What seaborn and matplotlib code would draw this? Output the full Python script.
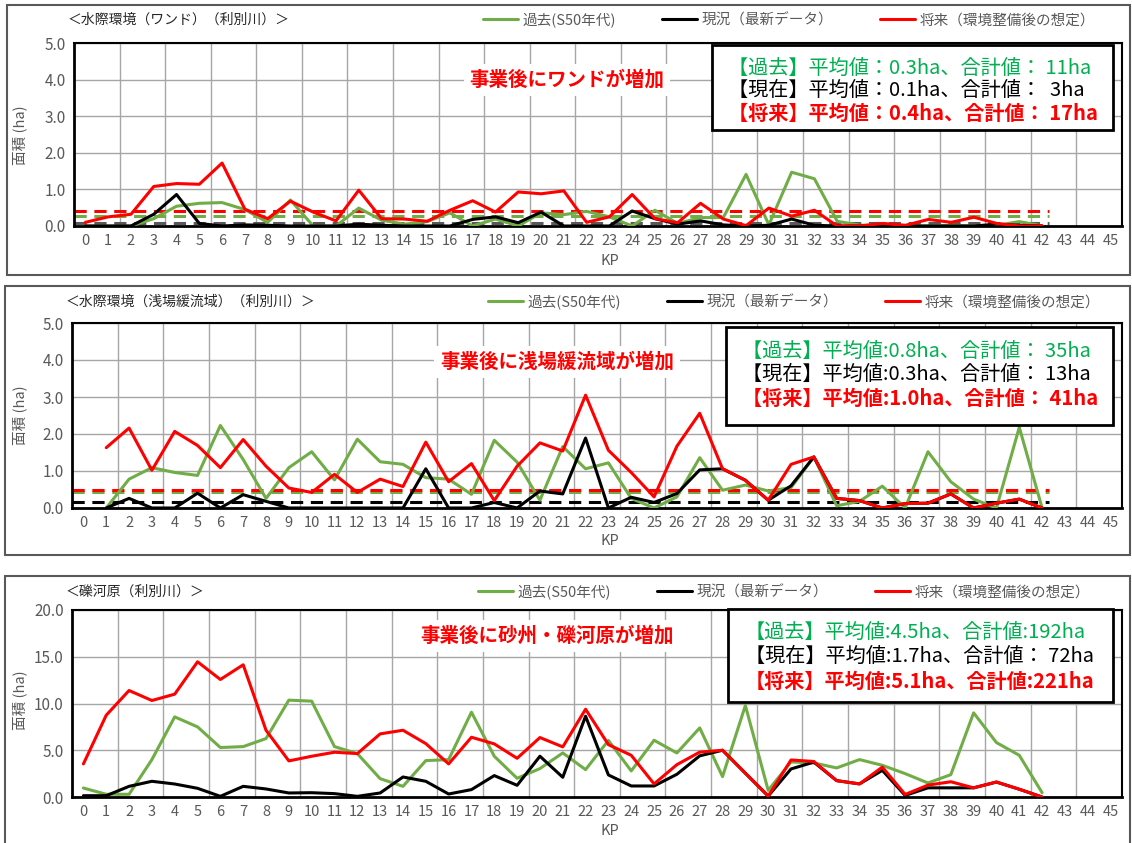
import numpy as np
import pandas as pd
import seaborn as sns
import matplotlib.pyplot as plt
from matplotlib.lines import Line2D
from matplotlib.patches import Rectangle
from matplotlib.ticker import MultipleLocator, FixedLocator

sns.set_style('white')
plt.rcParams['font.family'] = ['Noto Sans CJK JP', 'DejaVu Sans']

# KP 0-42 (軸は 0-45 まで表示)
kp = list(range(43))
kp_labels = [str(i) for i in range(46)]
nan = np.nan

# 水際環境（ワンド）
wando_past = [0, 0, 0, 0.2, 0.54, 0.62, 0.64, 0.45, 0.1, 0.71, 0, 0, 0.49, 0.16, 0.05, 0.12,
              0.36, 0, 0.19, 0, 0.36, 0.31, 0.4, 0.25, 0, 0.43, 0.07, 0.23, 0.23, 1.41, 0.03,
              1.47, 1.29, 0.13, 0.02, 0.03, 0, 0, 0.02, 0, 0.02, 0.12, 0]
wando_now = [0, 0, 0, 0.32, 0.86, 0.07, 0, 0.03, 0.02, 0, 0, 0, 0.05, 0.02, 0, 0, 0, 0.18,
             0.25, 0.09, 0.38, 0, 0, 0, 0.41, 0.2, 0.05, 0.14, 0.03, 0, 0.02, 0.19, 0.02, 0,
             0, 0, 0, 0, 0, 0, 0.05, 0.02, 0]
wando_future = [0.1, 0.25, 0.32, 1.08, 1.16, 1.14, 1.72, 0.46, 0.2, 0.68, 0.38, 0.14, 0.98,
                0.2, 0.19, 0.13, 0.43, 0.69, 0.38, 0.93, 0.88, 0.96, 0.1, 0.25, 0.86, 0.2,
                0.09, 0.62, 0.19, 0.01, 0.49, 0.27, 0.43, 0, 0, 0.07, 0.02, 0.18, 0.1, 0.24,
                0.07, 0, 0]
wando_levels = [0.27, 0.07, 0.42]   # 破線（過去・現況・将来）

# 水際環境（浅場緩流域）
asase_past = [nan, 0, 0.78, 1.09, 0.96, 0.88, 2.23, 1.31, 0.26, 1.09, 1.52, 0.76, 1.86, 1.25,
              1.18, 0.82, 0.78, 0.37, 1.83, 1.24, 0.21, 1.66, 1.06, 1.22, 0.26, 0, 0.3, 1.36,
              0.48, 0.62, 0.46, 0.55, 1.38, 0.06, 0.18, 0.59, 0, 1.52, 0.71, 0.24, 0, 2.18, 0]
asase_now = [nan, 0, 0.26, 0, 0, 0.4, 0, 0.36, 0.18, 0, 0, 0, 0, 0, 0, 1.06, 0, 0, 0.15, 0,
             0.46, 0.38, 1.89, 0, 0.29, 0.15, 0.39, 1.03, 1.06, 0.75, 0.21, 0.6, 1.38, 0.26,
             0.2, 0, 0.12, 0.13, 0.38, 0, 0.13, 0.24, 0]
asase_future = [nan, 1.63, 2.16, 1.02, 2.07, 1.69, 1.09, 1.85, 1.13, 0.54, 0.42, 0.91, 0.42,
                0.78, 0.58, 1.78, 0.71, 1.2, 0.2, 1.13, 1.76, 1.54, 3.05, 1.56, 0.96, 0.3,
                1.67, 2.56, 1.06, 0.75, 0.21, 1.18, 1.38, 0.26, 0.2, 0, 0.12, 0.13, 0.38, 0,
                0.13, 0.24, 0]
asase_levels = [0.43, 0.15, 0.49]

# 礫河原
reki_past = [0.96, 0.29, 0.29, 4.0, 8.57, 7.5, 5.29, 5.39, 6.25, 10.36, 10.25, 5.39, 4.64,
             1.96, 1.14, 3.89, 4.0, 9.07, 4.36, 2.0, 3.04, 4.71, 2.93, 6.05, 2.79, 6.07, 4.71,
             7.39, 2.18, 9.79, 0.71, 3.75, 3.64, 3.11, 4.0, 3.39, 2.5, 1.5, 2.39, 9.0, 5.82,
             4.46, 0.46]
reki_now = [0.14, 0.14, 1.14, 1.68, 1.39, 0.93, 0.07, 1.14, 0.86, 0.43, 0.46, 0.36, 0.07, 0.43,
            2.14, 1.68, 0.32, 0.79, 2.29, 1.25, 4.36, 2.11, 8.64, 2.36, 1.18, 1.18, 2.43, 4.4,
            5.0, 2.54, 0.1, 3.0, 3.73, 1.75, 1.4, 2.85, 0.17, 0.98, 0.98, 0.98, 1.6, 0.83, 0]
reki_future = [3.54, 8.75, 11.39, 10.32, 11.0, 14.46, 12.57, 14.14, 7.14, 3.86, 4.36, 4.79,
               4.64, 6.75, 7.14, 5.71, 3.54, 6.39, 5.68, 4.14, 6.36, 5.36, 9.39, 5.6, 4.46,
               1.4, 3.46, 4.8, 5.0, 2.54, 0.1, 3.96, 3.8, 1.75, 1.4, 3.2, 0.27, 1.27, 1.63,
               0.98, 1.6, 0.83, 0]

series_names = ['過去(S50年代)', '現況（最新データ）', '将来（環境整備後の想定）']
colors = ['#70ad47', '#000000', '#ff0000']
stat_colors = ['#00b050', '#000000', '#ff0000']

W, H = 1132, 843
fig = plt.figure(figsize=(W / 100, H / 100), dpi=100)


def fx(px):
    return px / W


def fy(py):
    return 1 - py / H


panels = [
    dict(data=[wando_past, wando_now, wando_future], levels=wando_levels,
         level_colors=['#70ad47', '#595959', '#ff0000'],
         title='＜水際環境（ワンド）（利別川）＞', ymax=5, major=1, minor=0.2,
         note='事業後にワンドが増加',
         stats=['【過去】平均値：0.3ha、合計値： 11ha',
                '【現在】平均値：0.1ha、合計値：  3ha',
                '【将来】平均値：0.4ha、合計値： 17ha'],
         frame=(7, 5, 1130, 275), ax=(74, 43, 1122, 226), title_xy=(68, 20),
         leg_xy=(1095, 20), note_xy=(567, 80), box=(712, 45, 1113, 130),
         stat_x=728, stat_y=[68, 90, 113], ylab_y=135, kp_y=261),
    dict(data=[asase_past, asase_now, asase_future], levels=asase_levels,
         level_colors=['#70ad47', '#000000', '#ff0000'],
         title='＜水際環境（浅場緩流域）（利別川）＞', ymax=5, major=1, minor=0.2,
         note='事業後に浅場緩流域が増加',
         stats=['【過去】平均値:0.8ha、合計値： 35ha',
                '【現在】平均値:0.3ha、合計値： 13ha',
                '【将来】平均値:1.0ha、合計値： 41ha'],
         frame=(5, 286, 1130, 555), ax=(72, 323, 1122, 508), title_xy=(66, 302),
         leg_xy=(1100, 302), note_xy=(557, 362), box=(726, 327, 1113, 425),
         stat_x=742, stat_y=[351, 374, 398], ylab_y=415, kp_y=541),
    dict(data=[reki_past, reki_now, reki_future], levels=None, level_colors=None,
         title='＜礫河原（利別川）＞', ymax=20, major=5, minor=1,
         note='事業後に砂州・礫河原が増加',
         stats=['【過去】平均値:4.5ha、合計値:192ha',
                '【現在】平均値:1.7ha、合計値： 72ha',
                '【将来】平均値:5.1ha、合計値:221ha'],
         frame=(5, 576, 1130, 850), ax=(72, 610, 1122, 797), title_xy=(66, 592),
         leg_xy=(1090, 592), note_xy=(547, 636), box=(728, 609, 1113, 702),
         stat_x=745, stat_y=[632, 656, 681], ylab_y=700, kp_y=831),
]

for p in panels:
    # パネル外枠
    l, t, r, b = p['frame']
    fig.add_artist(Rectangle((fx(l), fy(b)), fx(r - l), (b - t) / H, transform=fig.transFigure,
                             fill=False, edgecolor='#595959', lw=1.5))

    l, t, r, b = p['ax']
    ax = fig.add_axes([fx(l), fy(b), fx(r - l), (b - t) / H])

    df = pd.DataFrame({'KP': kp * 3,
                       'area': p['data'][0] + p['data'][1] + p['data'][2],
                       'series': sum([[n] * len(kp) for n in series_names], [])})
    df = df.dropna()
    sns.lineplot(data=df, x='KP', y='area', hue='series', hue_order=series_names,
                 palette=colors, estimator=None, sort=False, lw=2.2, legend=False,
                 ax=ax, zorder=3)

    if p['levels'] is not None:
        for lv, c in zip(p['levels'], p['level_colors']):
            ax.hlines(lv, -0.5, 42.3, colors=c, linestyles=(0, (4, 2.5)), lw=2.2, zorder=2)

    ax.set_xlim(-0.5, 45.5)
    ax.set_ylim(0, p['ymax'])
    ax.set_xticks(range(46))
    ax.set_xticklabels(kp_labels)
    ax.xaxis.set_minor_locator(FixedLocator(np.arange(0.5, 45.5, 1)))
    ax.yaxis.set_major_locator(MultipleLocator(p['major']))
    ax.yaxis.set_minor_locator(MultipleLocator(p['minor']))
    ax.yaxis.set_major_formatter(plt.FuncFormatter(lambda v, pos: f'{v:.1f}'))
    ax.tick_params(axis='x', which='major', length=0, labelsize=10.5, labelcolor='#595959', pad=6)
    ax.tick_params(axis='x', which='minor', direction='in', length=3, width=1)
    ax.tick_params(axis='y', which='major', direction='out', length=3, labelsize=11,
                   labelcolor='#595959', pad=3)
    ax.tick_params(axis='y', which='minor', direction='in', length=3, width=1)
    ax.set_xlabel('')
    ax.set_ylabel('')

    # グリッド
    for yv in np.arange(p['major'], p['ymax'] + 0.01, p['major']):
        ax.axhline(yv, color='#a6a6a6', lw=1, zorder=0)
    for xv in np.arange(1.5, 45, 2):
        ax.axvline(xv, color='#a6a6a6', lw=1, zorder=0)

    for s in ax.spines.values():
        s.set_color('black')
        s.set_linewidth(1.5)
    ax.spines['left'].set_linewidth(2)
    ax.spines['bottom'].set_linewidth(2)

    # タイトル・凡例・軸ラベル
    fig.text(fx(p['title_xy'][0]), fy(p['title_xy'][1]), p['title'], fontsize=10,
             color='#262626', ha='left', va='center')
    handles = [Line2D([], [], color=c, lw=2.2) for c in colors]
    fig.legend(handles, series_names, loc='center right',
               bbox_to_anchor=(fx(p['leg_xy'][0]), fy(p['leg_xy'][1])), ncol=3,
               frameon=False, fontsize=10.5, labelcolor='#595959', handlelength=2.4,
               handletextpad=0.3, columnspacing=3.2, borderpad=0, borderaxespad=0)
    fig.text(fx(20), fy(p['ylab_y']), '面積 (ha)', rotation=90, fontsize=10.5,
             color='#595959', ha='center', va='center')
    fig.text(fx(610), fy(p['kp_y']), 'KP', fontsize=10.5, color='#595959',
             ha='center', va='center')

    # 注記
    fig.text(fx(p['note_xy'][0]), fy(p['note_xy'][1]), p['note'], fontsize=14,
             fontweight='bold', color='#ff0000', ha='center', va='center',
             bbox=dict(facecolor='white', edgecolor='none', pad=4), zorder=5)

    # 平均値・合計値の枠
    l, t, r, b = p['box']
    fig.add_artist(Rectangle((fx(l), fy(b)), fx(r - l), (b - t) / H, transform=fig.transFigure,
                             facecolor='white', edgecolor='black', lw=2, zorder=5))
    for txt, c, yy, wt in zip(p['stats'], stat_colors, p['stat_y'], ['normal', 'normal', 'bold']):
        fig.text(fx(p['stat_x']), fy(yy), txt, fontsize=14.5, color=c, fontweight=wt,
                 ha='left', va='center', zorder=6)

fig.savefig('out.png', dpi=100)
